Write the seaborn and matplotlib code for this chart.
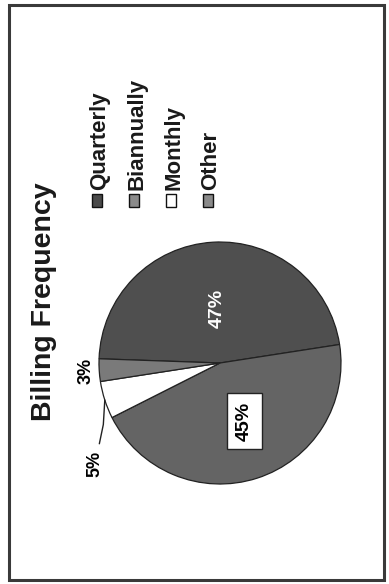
import numpy as np
import seaborn as sns
from matplotlib import pyplot as plt
from matplotlib.patches import Rectangle

# chart data
categories = ["Quarterly", "Biannually", "Monthly", "Other"]
shares = [47, 45, 5, 3]
pct_labels = ["47%", "45%", "5%", "3%"]
title = "Billing Frequency"

sns.set_theme(style="white")
plt.rcParams['font.family'] = ['Liberation Sans', 'DejaVu Sans']

W, H = 389, 584
fig = plt.figure(figsize=(W / 100, H / 100), dpi=100)


def fx(x):
    return x / W


def fy(y):
    return 1 - y / H


slice_colors = ["#4f4f4f", "#646464", "#ffffff", "#7a7a7a"]
legend_colors = ["#4a4a4a", "#8a8a8a", "#ffffff", "#8a8a8a"]

# pie is drawn rotated a quarter turn, like the scanned page
cx, cy, r = 220, 363, 121
ax = fig.add_axes([fx(cx - r), fy(cy + r), 2 * r / W, 2 * r / H])
wedges, _ = ax.pie(shares, colors=slice_colors, startangle=178, counterclock=False,
                   wedgeprops=dict(edgecolor="#222222", linewidth=0.9))
ax.set_xlim(-1, 1)
ax.set_ylim(-1, 1)
ax.set_aspect("equal")
ax.axis("off")

label_dist = [0.45, 0.52, 1.33, 1.11]
label_shift = [0, 5, 21, 0]
label_color = ["white", "black", "black", "black"]
label_size = [14, 14, 13, 13]
for w, txt, d, s, c, fs in zip(wedges, pct_labels, label_dist, label_shift, label_color, label_size):
    mid = np.deg2rad((w.theta1 + w.theta2) / 2 + s)
    kw = {}
    if txt == "45%":
        kw["bbox"] = dict(boxstyle="square,pad=0.45", fc="white", ec="#222222", lw=1.0)
    ax.text(d * np.cos(mid), d * np.sin(mid), txt, rotation=90, ha="center", va="center",
            fontsize=fs, fontweight="bold", color=c, clip_on=False, **kw)

# leader line for the monthly label
mw = wedges[2]
m_mid = (mw.theta1 + mw.theta2) / 2
lead_r = [1.0, 1.09, 1.2]
lead_a = np.deg2rad([m_mid, m_mid + 10, m_mid + 16])
ax.plot(np.array(lead_r) * np.cos(lead_a), np.array(lead_r) * np.sin(lead_a),
        color="#222222", lw=1.0, clip_on=False)

# title
fig.text(fx(44.5), fy(302), title, rotation=90, ha="center", va="center",
         fontsize=20.5, fontweight="bold", color="#1a1a1a")

# legend, rotated
leg_x0, leg_step = 97, 37
for i, (name, col) in enumerate(zip(categories, legend_colors)):
    x = leg_x0 + i * leg_step
    fig.text(fx(x + 3), fy(190), name, rotation=90, ha="center", va="bottom",
             fontsize=16, fontweight="bold", color="#1a1a1a")
    fig.patches.append(Rectangle((fx(x - 5), fy(207)), 10 / W, 13 / H,
                                 transform=fig.transFigure, fc=col, ec="#111111", lw=1.0))

# page border
fig.patches.append(Rectangle((fx(9), fy(580)), (384 - 9) / W, (580 - 5) / H,
                             transform=fig.transFigure, fill=False, ec="#3a3a3a", lw=2.2))

fig.savefig("out.png", dpi=100, facecolor="white")
